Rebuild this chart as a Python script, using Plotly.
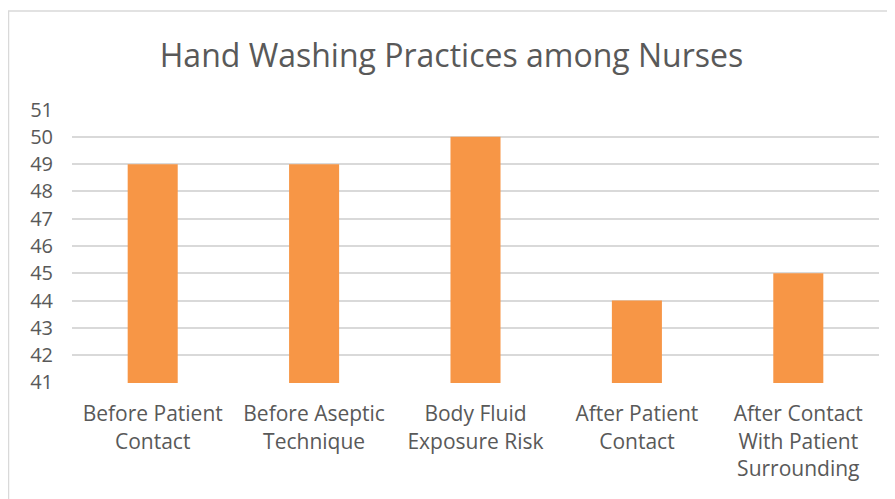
import plotly.graph_objects as go

categories = ["Before Patient<br>Contact", "Before Aseptic<br>Technique", "Body Fluid<br>Exposure Risk",
              "After Patient<br>Contact", "After Contact<br>With Patient<br>Surrounding"]
values = [49, 49, 50, 44, 45]
y_ticks = list(range(41, 52))

# page has an 8px body margin, so the figure is drawn 8px smaller than the window
W, H = 887, 491
L, R, T, B = 64, 16, 101, 116
pw, ph = W - L - R, H - T - B

fig = go.Figure(go.Bar(x=categories, y=values, marker=dict(color="#F79646", line=dict(width=0)),
                       width=0.31, hoverinfo="x+y"))

fig.update_layout(
    width=W, height=H,
    margin=dict(l=L, r=R, t=T, b=B),
    paper_bgcolor="white", plot_bgcolor="white",
    font=dict(family="Open Sans, Noto Sans, sans-serif", color="#595959"),
    title=dict(text="Hand Washing Practices among Nurses", x=0.5, xanchor="center",
               y=1 - 48 / H, yanchor="middle", yref="container",
               font=dict(size=32, color="#595959")),
    showlegend=False,
)
fig.update_yaxes(range=[40.98, 51.02], tickvals=y_ticks, showgrid=True, gridcolor="#D9D9D9", gridwidth=1.5,
                 zeroline=False, showline=False, tickfont=dict(size=20, color="#595959"),
                 ticks="outside", ticklen=14, tickcolor="rgba(0,0,0,0)")
fig.update_xaxes(showgrid=False, showline=False, tickfont=dict(size=21, color="#595959"),
                 ticks="outside", ticklen=12, tickcolor="rgba(0,0,0,0)", tickangle=0)

# chart border
fig.add_shape(type="rect", xref="paper", yref="paper",
              x0=(0.5 - L) / pw, x1=(W + 10 - L) / pw,
              y0=(H - B - (H + 10)) / ph, y1=(H - B - 3) / ph,
              line=dict(color="#D9D9D9", width=1.5), fillcolor="rgba(0,0,0,0)", layer="below")

fig.write_html("out.html")
